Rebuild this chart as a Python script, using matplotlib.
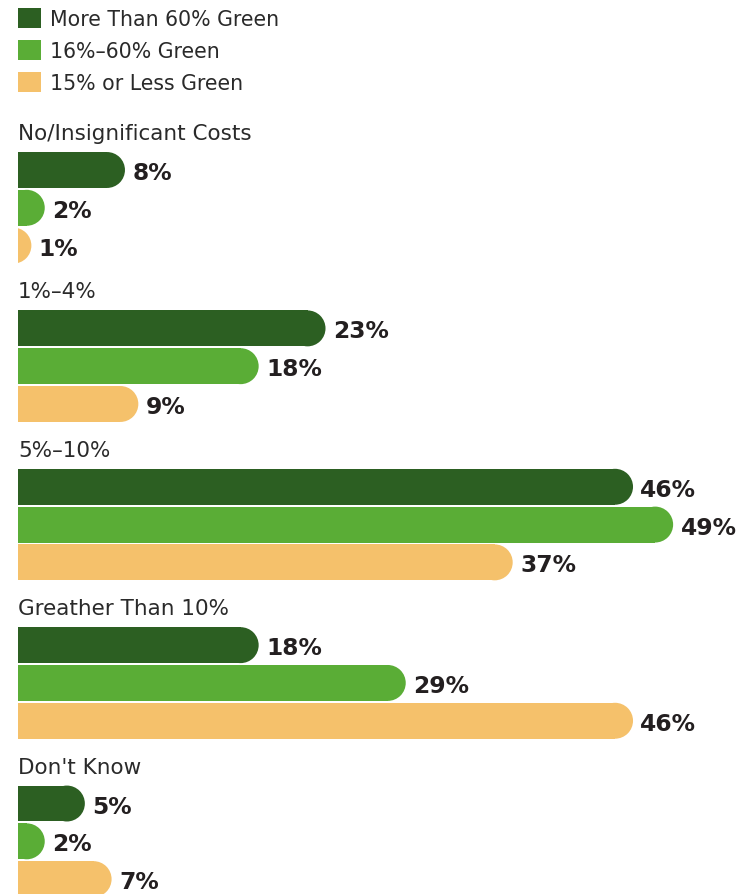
import matplotlib.pyplot as plt
from matplotlib.patches import Ellipse, Rectangle

# Data
categories = ["No/Insignificant Costs", "1%\u20134%", "5%\u201310%", "Greather Than 10%", "Don't Know"]
series_names = ["More Than 60% Green", "16%\u201360% Green", "15% or Less Green"]
more_than_60 = [8, 23, 46, 18, 5]
mid_16_60 = [2, 18, 49, 29, 2]
less_15 = [1, 9, 37, 46, 7]

colors = ["#2c5f22", "#5aad36", "#f5c16b"]
series = [more_than_60, mid_16_60, less_15]

W, H = 755, 895
px_per_pct = 13.37      # horizontal scale
row_px = 37.8           # one bar pitch
top_px = 171            # centre of the first bar
left_px = 18
group_step = 4.19
bar_h = 0.95

fig = plt.figure(figsize=(W / 100, H / 100), dpi=100)
ax = fig.add_axes([left_px / W, 0, 1 - left_px / W, 1])
ax.set_xlim(0, (W - left_px) / px_per_pct)
ax.set_ylim((H - top_px) / row_px, -top_px / row_px)
ax.axis("off")

rx = (bar_h * row_px / 2) / px_per_pct  # radius of rounded end, in % units

label_font = dict(family=["DejaVu Sans"], weight="bold", size=16.8, color="#231f20")
title_font = dict(family=["DejaVu Sans"], size=15.5, color="#2a2a2a")
legend_font = dict(family=["DejaVu Sans"], size=14.8, color="#2a2a2a")

for g, cat in enumerate(categories):
    y0 = g * group_step
    ax.text(0, y0 - 0.82, cat, ha="left", va="baseline", **title_font)
    for i, vals in enumerate(series):
        v = vals[g]
        y = y0 + i
        body = v - rx
        if body > 0:
            ax.add_patch(Rectangle((0, y - bar_h / 2), body, bar_h,
                                   facecolor=colors[i], edgecolor="none"))
        ax.add_patch(Ellipse((body, y), 2 * rx, bar_h,
                             facecolor=colors[i], edgecolor="none"))
        ax.text(v + 0.55, y, f"{v}%", ha="left", va="center_baseline", **label_font)

# Legend
leg_y = [-4.02, -3.17, -2.33]
sq = 20 / row_px
for i, name in enumerate(series_names):
    ax.add_patch(Rectangle((0, leg_y[i] - sq / 2), 23 / px_per_pct, sq,
                           facecolor=colors[i], edgecolor="none", clip_on=False))
    ax.text(32 / px_per_pct, leg_y[i] + 0.19, name, ha="left", va="baseline", **legend_font)

fig.savefig("out.png", dpi=100)
